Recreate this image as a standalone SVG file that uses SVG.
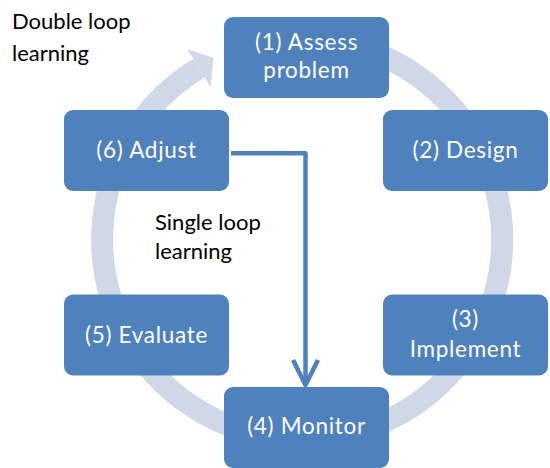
<svg xmlns="http://www.w3.org/2000/svg" width="550" height="468" viewBox="0 0 550 468">
  <style>
    .box { fill: #4f81bd; }
    .btxt { font-family: Lato, "Liberation Sans", sans-serif; font-size: 22.5px; letter-spacing: 0.7px; fill: #ffffff; text-anchor: middle; }
    .lbl { font-family: Lato, "Liberation Sans", sans-serif; font-size: 22px; fill: #000000; }
    .ring { fill: none; stroke: #d0d8e8; stroke-width: 22; }
    .ringhead { fill: #d0d8e8; }
    .conn { fill: none; stroke: #4f81bd; stroke-width: 4.5; stroke-linejoin: round; }
  </style>
  <rect width="550" height="468" fill="#ffffff"/>
  <g id="double-loop">
    <path class="ring" d="M 250.2 46.3 A 200 200 0 1 1 199 68.1"/>
    <polygon class="ringhead" points="187.5,49.3 213.6,58 210.5,87.1"/>
  </g>
  <g id="node1">
    <rect class="box" x="224" y="17" width="165" height="81" rx="9"/>
    <text class="btxt" x="306.5" y="49.5">(1) Assess</text>
    <text class="btxt" x="306.5" y="78">problem</text>
  </g>
  <g id="node2">
    <rect class="box" x="383" y="110" width="165" height="81" rx="9"/>
    <text class="btxt" x="465.5" y="157.5">(2) Design</text>
  </g>
  <g id="node3">
    <rect class="box" x="383" y="294.5" width="165" height="81" rx="9"/>
    <text class="btxt" x="465.5" y="327">(3)</text>
    <text class="btxt" x="465.5" y="356.5">Implement</text>
  </g>
  <g id="node4">
    <rect class="box" x="224" y="387" width="165" height="81" rx="9"/>
    <text class="btxt" x="306.5" y="434.3">(4) Monitor</text>
  </g>
  <g id="node5">
    <rect class="box" x="64" y="294.5" width="165" height="81" rx="9"/>
    <text class="btxt" x="146.5" y="342.5">(5) Evaluate</text>
  </g>
  <g id="node6">
    <rect class="box" x="64" y="110" width="165" height="81" rx="9"/>
    <text class="btxt" x="146.5" y="157.5">(6) Adjust</text>
  </g>
  <g id="connectors">
    <path class="conn" d="M 231 153.3 L 305.5 153.3 L 305.5 384"/>
    <path class="conn" d="M 293 360 L 305.5 385 L 318 360"/>
  </g>
  <g id="labels">
    <text class="lbl" x="12" y="29.3">Double loop</text>
    <text class="lbl" x="12" y="61">learning</text>
    <text class="lbl" x="155" y="230">Single loop</text>
    <text class="lbl" x="155" y="258.5">learning</text>
  </g>
</svg>
